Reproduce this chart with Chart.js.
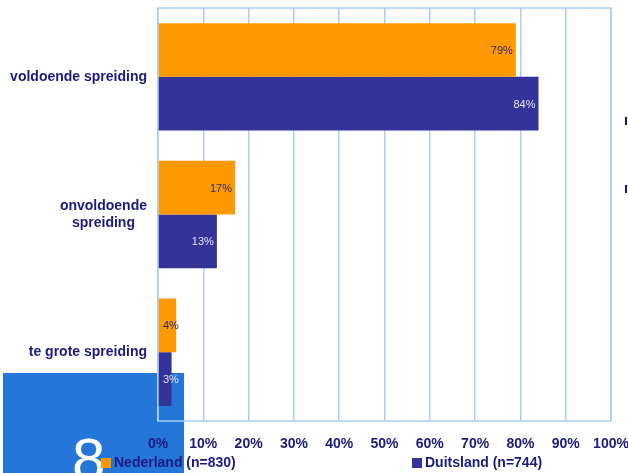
<!DOCTYPE html>
<html>
<head>
<meta charset="utf-8">
<script src="https://cdn.jsdelivr.net/npm/chart.js@4/dist/chart.umd.min.js"></script>
<style>
  html, body { margin: 0; padding: 0; background: #ffffff; }
  #wrap { position: relative; width: 628px; height: 473px; }
</style>
</head>
<body>
<div id="wrap"><canvas id="c" width="628" height="473"></canvas></div>
<script>
// Categories (multi-line labels as arrays) and the two series, in percent
const categories = [['voldoende spreiding'], ['onvoldoende', 'spreiding'], ['te grote spreiding']];
const seriesNames = ['Nederland (n=830)', 'Duitsland (n=744)'];
const nederland = [79, 17, 4];
const duitsland = [84, 13, 3];
const xTicks = ['0%', '10%', '20%', '30%', '40%', '50%', '60%', '70%', '80%', '90%', '100%'];

const NAVY_TEXT = '#1a1a80';
const ORANGE = '#ff9900';
const PURPLE = '#333399';
const GRID = '#a8cff8';
const FONT = 'Arial, "Liberation Sans", sans-serif';

// Slide decoration behind the chart: blue block with a large page number
const backdrop = {
  id: 'backdrop',
  beforeDraw(chart) {
    const ctx = chart.ctx;
    ctx.save();
    ctx.fillStyle = '#2477d9';
    ctx.fillRect(3, 373, 181, 100);
    ctx.fillStyle = '#ffffff';
    ctx.font = '60px ' + FONT;
    ctx.textAlign = 'left';
    ctx.textBaseline = 'alphabetic';
    ctx.fillText('8', 72, 480);
    // clipped glyphs at the right edge of the slide
    ctx.fillStyle = NAVY_TEXT;
    ctx.fillRect(625, 117, 2, 8);
    ctx.fillRect(625, 185, 2, 8);
    ctx.restore();
  }
};

// Plot frame and category labels
const frame = {
  id: 'frame',
  beforeDatasetsDraw(chart) {
    const { ctx, chartArea: a } = chart;
    ctx.save();
    ctx.strokeStyle = GRID;
    ctx.lineWidth = 1.5;
    ctx.strokeRect(a.left, a.top, a.right - a.left, a.bottom - a.top);
    ctx.restore();
  },
  afterDraw(chart) {
    const ctx = chart.ctx;
    const y = chart.scales.y;
    ctx.save();
    ctx.fillStyle = NAVY_TEXT;
    ctx.font = 'bold 14px ' + FONT;
    ctx.textBaseline = 'middle';
    categories.forEach((lines, i) => {
      const cy = y.getPixelForValue(i);
      const lh = 17;
      const widths = lines.map(l => ctx.measureText(l).width);
      const maxW = Math.max(...widths);
      const right = 147;
      lines.forEach((l, k) => {
        const ly = cy + (k - (lines.length - 1) / 2) * lh;
        if (lines.length > 1) {
          ctx.textAlign = 'center';
          ctx.fillText(l, right - maxW / 2, ly);
        } else {
          ctx.textAlign = 'right';
          ctx.fillText(l, right, ly);
        }
      });
    });
    ctx.restore();
  }
};

// Value labels inside the bar ends
const valueLabels = {
  id: 'valueLabels',
  afterDatasetsDraw(chart) {
    const { ctx, chartArea: a } = chart;
    ctx.save();
    ctx.font = '11px ' + FONT;
    ctx.textAlign = 'right';
    ctx.textBaseline = 'middle';
    chart.data.datasets.forEach((ds, di) => {
      const meta = chart.getDatasetMeta(di);
      ctx.fillStyle = di === 0 ? '#2b2b6e' : '#e4e4f4';
      meta.data.forEach((bar, i) => {
        const txt = ds.data[i] + '%';
        const w = ctx.measureText(txt).width;
        const x = Math.max(bar.x - 3, a.left + 5 + w);
        ctx.fillText(txt, x, bar.y + 1);
      });
    });
    ctx.restore();
  }
};

// Legend along the bottom edge
const bottomLegend = {
  id: 'bottomLegend',
  afterDraw(chart) {
    const ctx = chart.ctx;
    const items = [
      { x: 101, color: ORANGE, text: chart.data.datasets[0].label },
      { x: 412, color: PURPLE, text: chart.data.datasets[1].label }
    ];
    ctx.save();
    ctx.font = 'bold 14px ' + FONT;
    ctx.textAlign = 'left';
    ctx.textBaseline = 'middle';
    items.forEach(it => {
      ctx.fillStyle = it.color;
      ctx.fillRect(it.x, 458, 10, 10);
      ctx.fillStyle = NAVY_TEXT;
      ctx.fillText(it.text, it.x + 13, 463);
    });
    ctx.restore();
  }
};

new Chart(document.getElementById('c'), {
  type: 'bar',
  data: {
    labels: categories,
    datasets: [
      { label: seriesNames[0], data: nederland, backgroundColor: ORANGE },
      { label: seriesNames[1], data: duitsland, backgroundColor: PURPLE }
    ]
  },
  options: {
    indexAxis: 'y',
    responsive: false,
    animation: false,
    devicePixelRatio: 1,
    layout: { padding: { left: 0, right: 17, top: 8, bottom: 0 } },
    datasets: { bar: { categoryPercentage: 0.78, barPercentage: 1.0 } },
    plugins: { legend: { display: false }, tooltip: { enabled: false } },
    scales: {
      x: {
        min: 0, max: 100,
        ticks: {
          stepSize: 10,
          padding: 15,
          color: NAVY_TEXT,
          font: { family: FONT, size: 14, weight: 'bold' },
          callback: (v, i) => xTicks[i]
        },
        grid: { color: GRID, lineWidth: 1.5, drawTicks: false },
        border: { display: false },
        afterFit: s => {
          s.height = 52;
          // the last tick label may overhang into the page margin
          s.paddingLeft = 0;
          s.paddingRight = 0;
        }
      },
      y: {
        ticks: { display: false },
        grid: { display: false },
        border: { display: false },
        afterFit: s => { s.width = 158; }
      }
    }
  },
  plugins: [backdrop, frame, valueLabels, bottomLegend]
});
</script>
</body>
</html>
